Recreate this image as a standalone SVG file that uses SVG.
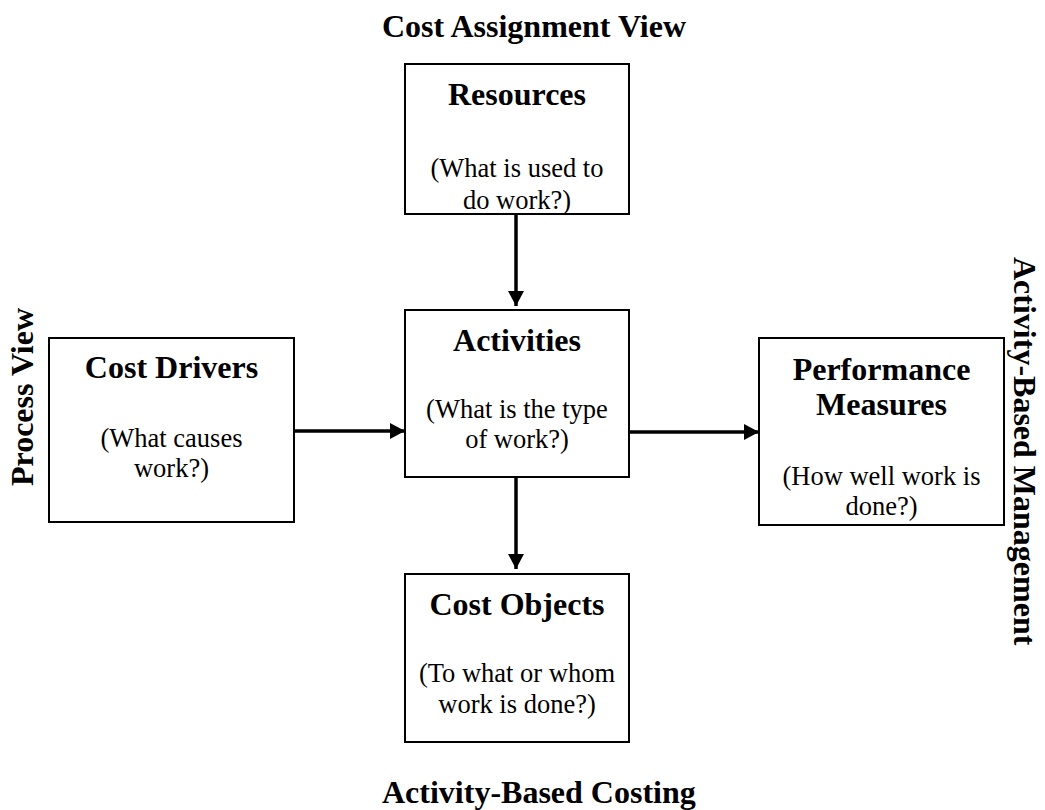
<svg xmlns="http://www.w3.org/2000/svg" width="1045" height="810" viewBox="0 0 1045 810">
<style>
.box{fill:#fff;stroke:#000;stroke-width:2}
.t{font-family:"Liberation Serif","Times New Roman",serif;font-weight:bold;font-size:32px;fill:#000}
.s{font-family:"Liberation Serif","Times New Roman",serif;font-size:26.5px;fill:#000;text-anchor:middle}
.c{text-anchor:middle}
.con{stroke:#000;stroke-width:3.5;fill:none}
</style>
<defs>
<marker id="ah" markerUnits="userSpaceOnUse" markerWidth="16" markerHeight="16" refX="15" refY="8" orient="auto" viewBox="0 0 16 16">
<path d="M0,0 L15,8 L0,16 Z" fill="#000"/>
</marker>
</defs>
<rect width="1045" height="810" fill="#fff"/>
<g id="labels">
<text class="t" x="382" y="37">Cost Assignment View</text>
<text class="t" x="382" y="803">Activity-Based Costing</text>
<text class="t" transform="translate(33,486) rotate(-90)">Process View</text>
<text class="t" transform="translate(1014,257) rotate(90)">Activity-Based Management</text>
</g>
<g id="connectors">
<line class="con" x1="516" y1="214" x2="516" y2="306" marker-end="url(#ah)"/>
<line class="con" x1="516" y1="477" x2="516" y2="569" marker-end="url(#ah)"/>
<line class="con" x1="294" y1="431" x2="405" y2="431" marker-end="url(#ah)"/>
<line class="con" x1="629" y1="432" x2="759" y2="432" marker-end="url(#ah)"/>
</g>
<g id="resources">
<rect class="box" x="405" y="64" width="224" height="150"/>
<text class="t c" x="517" y="105">Resources</text>
<text class="s" x="517" y="177">(What is used to</text>
<text class="s" x="517" y="209">do work?)</text>
</g>
<g id="activities">
<rect class="box" x="405" y="310" width="224" height="167"/>
<text class="t c" x="517" y="351">Activities</text>
<text class="s" x="517" y="418">(What is the type</text>
<text class="s" x="517" y="448">of work?)</text>
</g>
<g id="cost-drivers">
<rect class="box" x="49" y="338" width="245" height="184"/>
<text class="t c" x="171.5" y="378">Cost Drivers</text>
<text class="s" x="171.5" y="447">(What causes</text>
<text class="s" x="171.5" y="477">work?)</text>
</g>
<g id="performance">
<rect class="box" x="759" y="338" width="245" height="187"/>
<text class="t c" x="881.5" y="380">Performance</text>
<text class="t c" x="881.5" y="415">Measures</text>
<text class="s" x="881.5" y="485">(How well work is</text>
<text class="s" x="881.5" y="515">done?)</text>
</g>
<g id="cost-objects">
<rect class="box" x="405" y="574" width="224" height="168"/>
<text class="t c" x="517" y="615">Cost Objects</text>
<text class="s" x="517" y="682">(To what or whom</text>
<text class="s" x="517" y="713">work is done?)</text>
</g>
</svg>
